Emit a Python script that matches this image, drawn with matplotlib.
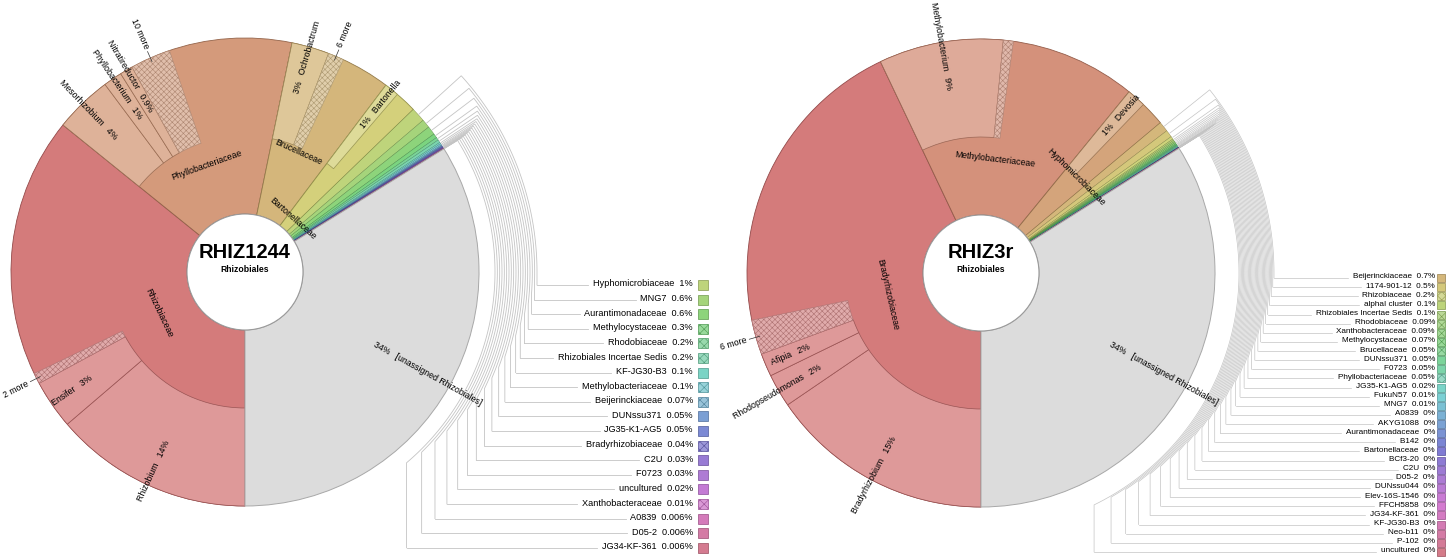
import colorsys
import numpy as np
import matplotlib.pyplot as plt
from matplotlib.patches import Wedge, Circle, Rectangle

plt.rcParams['font.family'] = ['Liberation Sans', 'DejaVu Sans']
plt.rcParams['hatch.linewidth'] = 0.4

W, H = 1446, 559
R_HOLE, R_FAM, R_OUT = 58, 136, 234

# ================== RHIZ1244 ==================
left_fam = ['Rhizobiaceae', 'Phyllobacteriaceae', 'Brucellaceae', 'Bartonellaceae']
left_fam_pct = [36.0, 17.5, 7.1, 2.5]
left_gen_parent = ['Rhizobiaceae', 'Rhizobiaceae', 'Rhizobiaceae',
                   'Phyllobacteriaceae', 'Phyllobacteriaceae', 'Phyllobacteriaceae', 'Phyllobacteriaceae',
                   'Brucellaceae', 'Brucellaceae', 'Bartonellaceae']
left_gen_name = ['Rhizobium', 'Ensifer', '2 more', 'Mesorhizobium', 'Phyllobacterium',
                 'Nitratireductor', '10 more', 'Ochrobactrum', '6 more', 'Bartonella']
left_gen_pct = [13.8, 3.4, 0.75, 4.0, 1.3, 0.9, 2.8, 2.6, 1.1, 1.0]
left_gen_lab = ['14%', '3%', '', '4%', '1%', '0.9%', '', '3%', '', '1%']
left_key_names = ['Hyphomicrobiaceae', 'MNG7', 'Aurantimonadaceae', 'Methylocystaceae',
                  'Rhodobiaceae', 'Rhizobiales Incertae Sedis', 'KF-JG30-B3', 'Methylobacteriaceae',
                  'Beijerinckiaceae', 'DUNssu371', 'JG35-K1-AG5', 'Bradyrhizobiaceae', 'C2U',
                  'F0723', 'uncultured', 'Xanthobacteraceae', 'A0839', 'D05-2', 'JG34-KF-361']
left_key_pct = [1.0, 0.6, 0.6, 0.3, 0.2, 0.2, 0.1, 0.1, 0.07, 0.05, 0.05, 0.04, 0.03,
                0.03, 0.02, 0.01, 0.006, 0.006, 0.006]
left_key_lab = ['1%', '0.6%', '0.6%', '0.3%', '0.2%', '0.2%', '0.1%', '0.1%', '0.07%', '0.05%',
                '0.05%', '0.04%', '0.03%', '0.03%', '0.02%', '0.01%', '0.006%', '0.006%', '0.006%']
left_key_hatch = ['Methylocystaceae', 'Rhodobiaceae', 'Rhizobiales Incertae Sedis',
                  'Methylobacteriaceae', 'Beijerinckiaceae', 'Bradyrhizobiaceae', 'Xanthobacteraceae']
left_unassigned = 34.0

# ================== RHIZ3r ==================
right_fam = ['Bradyrhizobiaceae', 'Methylobacteriaceae', 'Hyphomicrobiaceae']
right_fam_pct = [43.0, 18.0, 3.0]
right_gen_parent = ['Bradyrhizobiaceae', 'Bradyrhizobiaceae', 'Bradyrhizobiaceae', 'Bradyrhizobiaceae',
                    'Methylobacteriaceae', 'Methylobacteriaceae', 'Hyphomicrobiaceae']
right_gen_name = ['Bradyrhizobium', 'Rhodopseudomonas', 'Afipia', '6 more',
                  'Methylobacterium', '', 'Devosia']
right_gen_pct = [15.5, 2.3, 1.6, 2.4, 8.6, 0.7, 1.3]
right_gen_lab = ['15%', '2%', '2%', '', '9%', '', '1%']
right_key_names = ['Beijerinckiaceae', '1174-901-12', 'Rhizobiaceae', 'alphaI cluster',
                   'Rhizobiales Incertae Sedis', 'Rhodobiaceae', 'Xanthobacteraceae', 'Methylocystaceae',
                   'Brucellaceae', 'DUNssu371', 'F0723', 'Phyllobacteriaceae', 'JG35-K1-AG5',
                   'FukuN57', 'MNG7', 'A0839', 'AKYG1088', 'Aurantimonadaceae', 'B142',
                   'Bartonellaceae', 'BCf3-20', 'C2U', 'D05-2', 'DUNssu044', 'Elev-16S-1546',
                   'FFCH5858', 'JG34-KF-361', 'KF-JG30-B3', 'Neo-b11', 'P-102', 'uncultured']
right_key_pct = [0.7, 0.5, 0.2, 0.1, 0.1, 0.09, 0.09, 0.07, 0.05, 0.05, 0.05, 0.05, 0.02,
                 0.01, 0.01] + [0.004] * 16
right_key_lab = ['0.7%', '0.5%', '0.2%', '0.1%', '0.1%', '0.09%', '0.09%', '0.07%', '0.05%',
                 '0.05%', '0.05%', '0.05%', '0.02%', '0.01%', '0.01%'] + ['0%'] * 16
right_key_hatch = ['Rhizobiaceae', 'Rhizobiales Incertae Sedis', 'Rhodobiaceae', 'Xanthobacteraceae',
                   'Methylocystaceae', 'Brucellaceae', 'Phyllobacteriaceae']
right_unassigned = 34.0


def hsv(h, s, v):
    return colorsys.hsv_to_rgb(h % 1.0, s, v)


def polar(cx, cy, r, a):
    t = np.radians(a)
    return cx + r * np.cos(t), cy + r * np.sin(t)


def radial_rot(a):
    a = (a + 180) % 360 - 180
    if -90 <= a <= 90:
        return a, True
    return (a - 180 if a > 0 else a + 180), False


def tangent_rot(a):
    a = (a + 180) % 360 - 180
    return a - 90 if a > 0 else a + 90


def draw_chart(ax, cx, cy, title, fams, fam_pct, fam_lab_r, gen_parent, gen_name, gen_pct,
               gen_lab, key_names, key_pct, key_lab, key_hatch, unassigned, lg):
    total = sum(fam_pct) + sum(key_pct) + unassigned
    sc = 360.0 / total
    n_col = len(fams) + len(key_names)
    hues = [(k / n_col) ** 0.9 for k in range(n_col)]
    fs = 6.3

    a = 270.0
    # ---- families with children ----
    for i, (f, v) in enumerate(zip(fams, fam_pct)):
        t2, t1 = a, a - v * sc
        h = hues[i]
        ax.add_patch(Wedge((cx, cy), R_OUT, t1, t2, width=R_OUT - R_HOLE,
                           fc=hsv(h, 0.42, 0.83), ec=hsv(h, 0.5, 0.58), lw=0.6))
        b = t2
        for p, g, gv, gl in zip(gen_parent, gen_name, gen_pct, gen_lab):
            if p != f:
                continue
            g2, g1 = b, b - gv * sc
            more = g.endswith('more') or g == ''
            if more:
                ax.add_patch(Wedge((cx, cy), R_OUT, g1, g2, width=R_OUT - R_FAM,
                                   fc=hsv(h, 0.24, 0.88), ec=hsv(h, 0.35, 0.68), lw=0.4,
                                   hatch='xxxxxx'))
            else:
                ax.add_patch(Wedge((cx, cy), R_OUT, g1, g2, width=R_OUT - R_FAM,
                                   fc=hsv(h, 0.31, 0.87), ec=hsv(h, 0.45, 0.6), lw=0.5))
            gm = (g1 + g2) / 2
            rot, outward = radial_rot(gm)
            if gl:
                s = f'{gl}   {g}' if outward else f'{g}   {gl}'
                x, y = polar(cx, cy, 186, gm)
                ax.text(x, y, s, rotation=rot, rotation_mode='anchor', va='center',
                        ha='left' if outward else 'right', fontsize=fs)
            elif g:
                x0, y0 = polar(cx, cy, 230, gm)
                x1, y1 = polar(cx, cy, 241, gm)
                ax.plot([x0, x1], [y0, y1], color='#333333', lw=0.5)
                x, y = polar(cx, cy, 244, gm)
                ax.text(x, y, g, rotation=rot, rotation_mode='anchor', va='center',
                        ha='left' if outward else 'right', fontsize=fs)
            b = g1
        x, y = polar(cx, cy, fam_lab_r[i], (t1 + t2) / 2)
        ax.text(x, y, f, rotation=tangent_rot((t1 + t2) / 2), rotation_mode='anchor',
                ha='center', va='center', fontsize=fs)
        a = t1

    # ---- small families (keyed) ----
    key_mid = []
    for k, v in enumerate(key_pct):
        t2, t1 = a, a - v * sc
        h = hues[len(fams) + k]
        ax.add_patch(Wedge((cx, cy), R_OUT, t1, t2, width=R_OUT - R_HOLE,
                           fc=hsv(h, 0.42, 0.83), ec=hsv(h, 0.55, 0.5), lw=0.25))
        key_mid.append((t1 + t2) / 2)
        a = t1

    # ---- unassigned ----
    ax.add_patch(Wedge((cx, cy), R_OUT, -90, a, width=R_OUT - R_HOLE,
                       fc='#dcdcdc', ec='#a8a8a8', lw=0.7))
    um = (a - 90) / 2
    x, y = polar(cx, cy, 148, um)
    ax.text(x, y, f'{unassigned:.0f}%   [unassigned Rhizobiales]', rotation=um,
            rotation_mode='anchor', ha='left', va='center', fontsize=fs)

    # ---- centre ----
    ax.add_patch(Circle((cx, cy), R_HOLE, fc='white', ec='#9a9a9a', lw=0.8))
    ax.text(cx, cy + 20, title, ha='center', va='center', fontsize=14.5, fontweight='bold')
    ax.text(cx, cy + 3, 'Rhizobiales', ha='center', va='center', fontsize=6.2, fontweight='bold')

    # ---- key lines and legend ----
    pending = []
    n = len(key_names)
    for k in range(n):
        th = key_mid[k]
        R = lg['R0'] + (lg['R1'] - lg['R0']) * k / (n - 1)
        drop = lg['d0'] + (lg['d1'] - lg['d0']) * k / (n - 1)
        y_row = H - (lg['y0'] + k * lg['dy'])
        y_arc = y_row + drop
        phi = np.degrees(np.arcsin(np.clip((y_arc - cy) / R, -1, 1)))
        angs = np.linspace(th, phi, 80)
        xs0, ys0 = polar(cx, cy, R_OUT + 1, th)
        xa, ya = polar(cx, cy, R, angs)
        xs = np.concatenate([[xs0], xa, [xa[-1]]])
        ys = np.concatenate([[ys0], ya, [y_row]])
        ax.plot(xs, ys, color='#c4c4c4', lw=lg['lw'], solid_joinstyle='miter')
        h = hues[len(fams) + k]
        t = ax.text(lg['xt'], y_row + 1, f'{key_names[k]}  {key_lab[k]}', ha='right',
                    va='center', fontsize=lg['fs'])
        hatched = key_names[k] in key_hatch
        ax.add_patch(Rectangle((lg['sx'], y_row - lg['sw'] / 2), lg['sw'], lg['sw'],
                               fc=hsv(h, 0.3 if hatched else 0.42, 0.85 if hatched else 0.83),
                               ec=hsv(h, 0.5, 0.6), lw=0.5, hatch='xxxx' if hatched else None))
        pending.append((t, xa[-1], y_row, lg['lw']))
    return pending


fig = plt.figure(figsize=(W / 100, H / 100), dpi=100)
ax = fig.add_axes([0, 0, 1, 1])
ax.set_xlim(0, W)
ax.set_ylim(0, H)
ax.axis('off')

left_lg = dict(R0=292, R1=250, d0=13, d1=85, y0=285, dy=14.6, xt=693, sx=698, sw=10, fs=6.6, lw=0.6)
right_lg = dict(R0=293, R1=258, d0=5, d1=47, y0=278, dy=9.13, xt=1435, sx=1437, sw=8, fs=5.9, lw=0.5)

pend = draw_chart(ax, 245, H - 272, 'RHIZ1244', left_fam, left_fam_pct, [95, 113, 131, 72],
                  left_gen_parent, left_gen_name, left_gen_pct, left_gen_lab,
                  left_key_names, left_key_pct, left_key_lab, left_key_hatch, left_unassigned, left_lg)
pend += draw_chart(ax, 981, H - 273, 'RHIZ3r', right_fam, right_fam_pct, [96, 114, 135],
                   right_gen_parent, right_gen_name, right_gen_pct, right_gen_lab,
                   right_key_names, right_key_pct, right_key_lab, right_key_hatch, right_unassigned, right_lg)

# horizontal key lines end just before each label
fig.canvas.draw()
rend = fig.canvas.get_renderer()
inv = ax.transData.inverted()
for t, x0, y_row, lw in pend:
    bb = t.get_window_extent(rend)
    xe = inv.transform((bb.x0, bb.y0))[0] - 5
    ax.plot([x0, xe], [y_row, y_row], color='#c4c4c4', lw=lw)

fig.savefig('out.png', dpi=100)
